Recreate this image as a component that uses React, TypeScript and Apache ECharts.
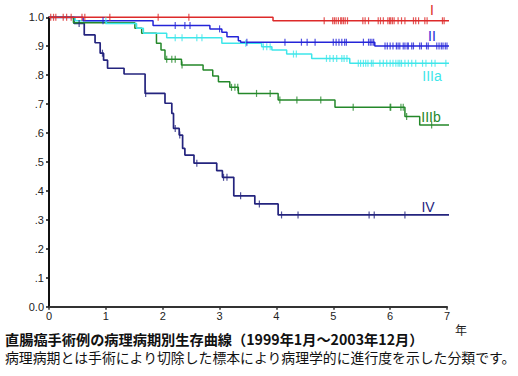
import React, { useEffect, useRef } from "react";
import * as echarts from "echarts";

const yTickLabels = ["0.0", ".1", ".2", ".3", ".4", ".5", ".6", ".7", ".8", ".9", "1.0"];
const xTickLabels = ["0", "1", "2", "3", "4", "5", "6", "7"];
const xUnit = "年";
const titleLine1 = "直腸癌手術例の病理病期別生存曲線（1999年1月～2003年12月）";
const titleLine2 = "病理病期とは手術により切除した標本により病理学的に進行度を示した分類です。";

const stageNames = ["I", "II", "IIIa", "IIIb", "IV"];
const stageColors = ["#dd2a2a", "#2424d8", "#3ee6ea", "#24882a", "#24247e"];

const iTimes = [0, 3.94, 7.27];
const iSurv = [1.0, 0.988, 0.988];
const iCensor = [0.03, 0.08, 0.12, 0.25, 0.31, 0.39, 0.58, 0.63, 1.07, 1.92, 2.46, 4.84, 4.99, 5.02, 5.05, 5.09, 5.13, 5.15, 5.18, 5.21, 5.25, 5.52, 5.56, 5.62, 5.79, 5.83, 5.88, 5.96, 5.99, 6.01, 6.04, 6.07, 6.14, 6.2, 6.26, 6.41, 6.45, 6.5, 6.61, 6.65, 6.92, 6.95];

const iiTimes = [0, 0.6, 1.83, 2.83, 3.04, 3.13, 3.33, 3.37, 5.73, 7.27];
const iiSurv = [1.0, 0.988, 0.972, 0.96, 0.948, 0.933, 0.919, 0.914, 0.901, 0.901];
const iiCensor = [0.95, 2.22, 2.39, 2.48, 3.0, 3.48, 4.15, 4.44, 4.54, 4.68, 5.0, 5.05, 5.1, 5.15, 5.2, 5.23, 5.53, 5.62, 5.65, 5.68, 5.71, 5.91, 5.95, 6.0, 6.05, 6.11, 6.14, 6.17, 6.23, 6.26, 6.3, 6.32, 6.38, 6.41, 6.52, 6.55, 6.64, 6.67, 6.82, 6.86, 6.9, 6.93, 6.97, 7.0];

const iiiaTimes = [0, 0.46, 1.01, 1.54, 1.66, 2.07, 3.04, 3.74, 3.92, 4.18, 4.62, 5.29, 7.27];
const iiiaSurv = [1.0, 0.988, 0.979, 0.962, 0.945, 0.929, 0.91, 0.898, 0.887, 0.873, 0.858, 0.841, 0.841];
const iiiaCensor = [1.0, 2.22, 2.34, 2.6, 2.69, 3.46, 3.77, 3.83, 3.89, 4.3, 4.35, 4.88, 4.94, 5.0, 5.06, 5.15, 5.19, 5.24, 5.44, 5.48, 5.53, 5.57, 5.61, 5.67, 5.7, 5.82, 5.88, 5.94, 6.0, 6.05, 6.1, 6.14, 6.17, 6.2, 6.26, 6.32, 6.38, 6.45, 6.57, 6.63, 6.73, 6.79, 6.98];

const iiibTimes = [0, 0.43, 1.51, 1.63, 1.89, 1.97, 2.04, 2.33, 2.71, 2.88, 2.98, 3.18, 3.33, 4.03, 5.03, 6.26, 6.52, 7.27];
const iiibSurv = [1.0, 0.981, 0.962, 0.945, 0.91, 0.887, 0.855, 0.835, 0.818, 0.797, 0.777, 0.758, 0.737, 0.714, 0.689, 0.657, 0.628, 0.628];
const iiibCensor = [2.07, 2.16, 2.22, 2.34, 3.21, 3.27, 3.32, 3.65, 3.89, 4.06, 4.36, 4.78, 5.35, 6.0, 6.01, 6.19, 6.23, 6.29, 6.73];

const ivTimes = [0, 0.44, 0.62, 0.81, 0.9, 0.96, 1.03, 1.32, 1.69, 2.04, 2.16, 2.19, 2.29, 2.35, 2.39, 2.55, 2.95, 3.05, 3.25, 3.62, 4.03, 7.27];
const ivSurv = [1.0, 0.979, 0.939, 0.912, 0.876, 0.852, 0.824, 0.804, 0.737, 0.703, 0.668, 0.616, 0.593, 0.547, 0.524, 0.496, 0.47, 0.447, 0.383, 0.355, 0.317, 0.317];
const ivCensor = [0.53, 0.94, 1.7, 2.22, 2.3, 2.6, 3.07, 3.13, 3.37, 3.7, 4.09, 4.38, 5.63, 5.72, 6.26];

const stageTimes = [iTimes, iiTimes, iiiaTimes, iiibTimes, ivTimes];
const stageSurv = [iSurv, iiSurv, iiiaSurv, iiibSurv, ivSurv];
const stageCensor = [iCensor, iiCensor, iiiaCensor, iiibCensor, ivCensor];

function survAt(times: number[], surv: number[], t: number): number {
  let v = surv[0];
  for (let i = 0; i < times.length; i++) {
    if (times[i] <= t) v = surv[i];
  }
  return v;
}

const labelPos = [
  { x: 432, y: 10 },
  { x: 432, y: 36 },
  { x: 432, y: 76 },
  { x: 431, y: 117 },
  { x: 428, y: 207 },
];

export default function App() {
  const ref = useRef<HTMLDivElement>(null);
  useEffect(() => {
    if (!ref.current) return;
    const chart = echarts.init(ref.current, undefined, { renderer: "svg" });
    const series: any[] = [];
    const order = [4, 3, 2, 1, 0];
    order.forEach((k) => {
      series.push({
        type: "line",
        name: stageNames[k],
        step: "end",
        clip: false,
        showSymbol: false,
        symbol: "none",
        lineStyle: { color: stageColors[k], width: k === 4 ? 1.7 : 1.5 },
        data: stageTimes[k].map((t, i) => [t, stageSurv[k][i]]),
        z: 2,
      });
      series.push({
        type: "scatter",
        name: stageNames[k] + "-censor",
        clip: false,
        symbol: "rect",
        symbolSize: [1.2, 7],
        itemStyle: { color: stageColors[k] },
        data: stageCensor[k].map((t) => [t, survAt(stageTimes[k], stageSurv[k], t)]),
        z: 3,
      });
    });

    const graphics: any[] = stageNames.map((n, k) => ({
      type: "text",
      x: labelPos[k].x,
      y: labelPos[k].y,
      style: {
        text: n,
        fill: stageColors[k],
        fontSize: 14,
        fontFamily: "Liberation Sans",
        textAlign: "center",
        textVerticalAlign: "middle",
        align: "center",
        verticalAlign: "middle",
      },
    }));
    graphics.push(
      {
        type: "text",
        x: 461,
        y: 329,
        style: { text: xUnit, fill: "#222", fontSize: 12, fontFamily: "Noto Sans CJK JP", textAlign: "center", textVerticalAlign: "middle", align: "center", verticalAlign: "middle" },
      },
      {
        type: "text",
        x: 5,
        y: 339,
        style: { text: titleLine1, fill: "#111", fontSize: 14.2, lineHeight: 14, fontWeight: "bold", fontFamily: "Noto Sans CJK JP", textAlign: "left", textVerticalAlign: "middle", align: "left", verticalAlign: "middle" },
      },
      {
        type: "text",
        x: 5,
        y: 357,
        style: { text: titleLine2, fill: "#111", fontSize: 13.85, lineHeight: 14, fontFamily: "Noto Sans CJK JP", textAlign: "left", textVerticalAlign: "middle", align: "left", verticalAlign: "middle" },
      }
    );

    chart.setOption({
      animation: false,
      backgroundColor: "#ffffff",
      grid: { left: 49, right: 71, top: 17.3, bottom: 69.3, containLabel: false },
      xAxis: {
        type: "value",
        min: 0,
        max: 7,
        interval: 1,
        splitLine: { show: false },
        axisLine: { show: true, onZero: false, lineStyle: { color: "#333", width: 2 } },
        axisTick: { show: true, length: 3, lineStyle: { color: "#333", width: 1.5 } },
        axisLabel: {
          margin: 4,
          fontSize: 11,
          fontFamily: "Liberation Sans",
          color: "#222",
          formatter: (v: number) => xTickLabels[Math.round(v)] ?? "",
        },
      },
      yAxis: {
        type: "value",
        min: 0,
        max: 1,
        interval: 0.1,
        splitLine: { show: false },
        axisLine: { show: true, onZero: false, lineStyle: { color: "#111", width: 2 } },
        axisTick: { show: true, length: 3, lineStyle: { color: "#111", width: 1.5 } },
        axisLabel: {
          margin: 5,
          fontSize: 11,
          fontFamily: "Liberation Sans",
          color: "#222",
          formatter: (v: number) => yTickLabels[Math.round(v * 10)] ?? "",
        },
      },
      series,
      graphic: graphics,
    });
    return () => chart.dispose();
  }, []);
  return (
    <div
      ref={ref}
      style={{ position: "fixed", left: 0, top: 0, width: 518, height: 376, background: "#fff" }}
    />
  );
}
